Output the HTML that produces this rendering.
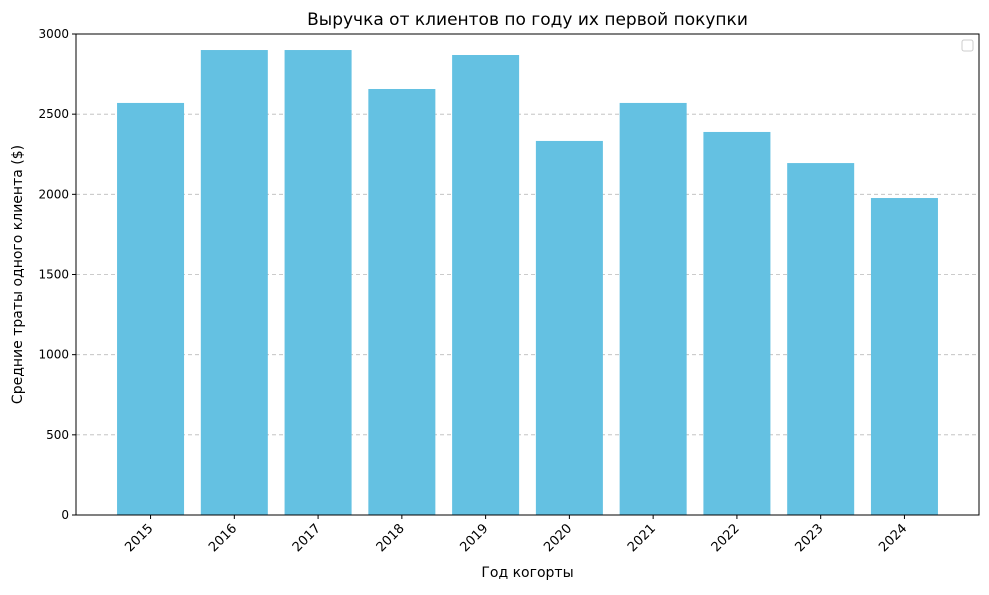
<!DOCTYPE html>
<html><head><meta charset="utf-8"><style>
body{margin:0;background:#fff;font-family:"Liberation Sans","DejaVu Sans",sans-serif;}
</style></head><body>
<svg id="chart" width="989" height="590" xmlns="http://www.w3.org/2000/svg" font-family="DejaVu Sans, Liberation Sans, sans-serif"></svg>
<script>
const categories=["2015","2016","2017","2018","2019","2020","2021","2022","2023","2024"];
const values=[2570,2900,2900,2657,2869,2333,2570,2389,2195,1977];
const yTicks=[0,500,1000,1500,2000,2500,3000];
const L=76,R=979,T=34,B=515;
const xMin=-0.89,xMax=9.89,yMax=3000;
const xs=v=>L+(v-xMin)/(xMax-xMin)*(R-L);
const ys=v=>B-v/yMax*(B-T);
const svg=document.getElementById('chart');
const NS="http://www.w3.org/2000/svg";
function el(tag,attrs,parent){const e=document.createElementNS(NS,tag);for(const k in attrs)e.setAttribute(k,attrs[k]);(parent||svg).appendChild(e);return e;}
yTicks.forEach(t=>{if(t>0&&t<3000){const g=el('line',{x1:L,x2:R,y1:ys(t),y2:ys(t),stroke:'#bbbbbb','stroke-dasharray':'4,3','stroke-width':0.8});

}});
categories.forEach((c,i)=>{const w=xs(0.4)-xs(-0.4);const r=el('rect',{x:xs(i)-w/2,y:ys(values[i]),width:w,height:B-ys(values[i]),fill:'#64c1e2'});


const tk=el('line',{x1:xs(i),x2:xs(i),y1:B,y2:B+4,stroke:'#000'});


const x=xs(i)+3,y=B+14;
const t=el('text',{x:x,y:y,'font-size':13,'text-anchor':'end',transform:`rotate(-45 ${x} ${y})`});t.textContent=c;

});
yTicks.forEach(v=>{const tk=el('line',{x1:L-4,x2:L,y1:ys(v),y2:ys(v),stroke:'#000'});


const t=el('text',{x:L-7,y:ys(v)+4,'font-size':12,'text-anchor':'end'});t.textContent=v;

});
const fr=el('rect',{x:L,y:T,width:R-L,height:B-T,fill:'none',stroke:'#000','stroke-width':1});


const lg=el('rect',{x:962,y:40,width:11,height:11,rx:2,fill:'#fff',stroke:'#ccc'});


const ti=el('text',{x:(L+R)/2,y:25,'font-size':17,'text-anchor':'middle'});ti.textContent='Выручка от клиентов по году их первой покупки';


const xt=el('text',{x:(L+R)/2,y:577,'font-size':14,'text-anchor':'middle'});xt.textContent='Год когорты';


const yt=el('text',{x:22,y:(T+B)/2,'font-size':14,'text-anchor':'middle',transform:`rotate(-90 22 ${(T+B)/2})`});yt.textContent='Средние траты одного клиента ($)';


</script>
</body></html>
